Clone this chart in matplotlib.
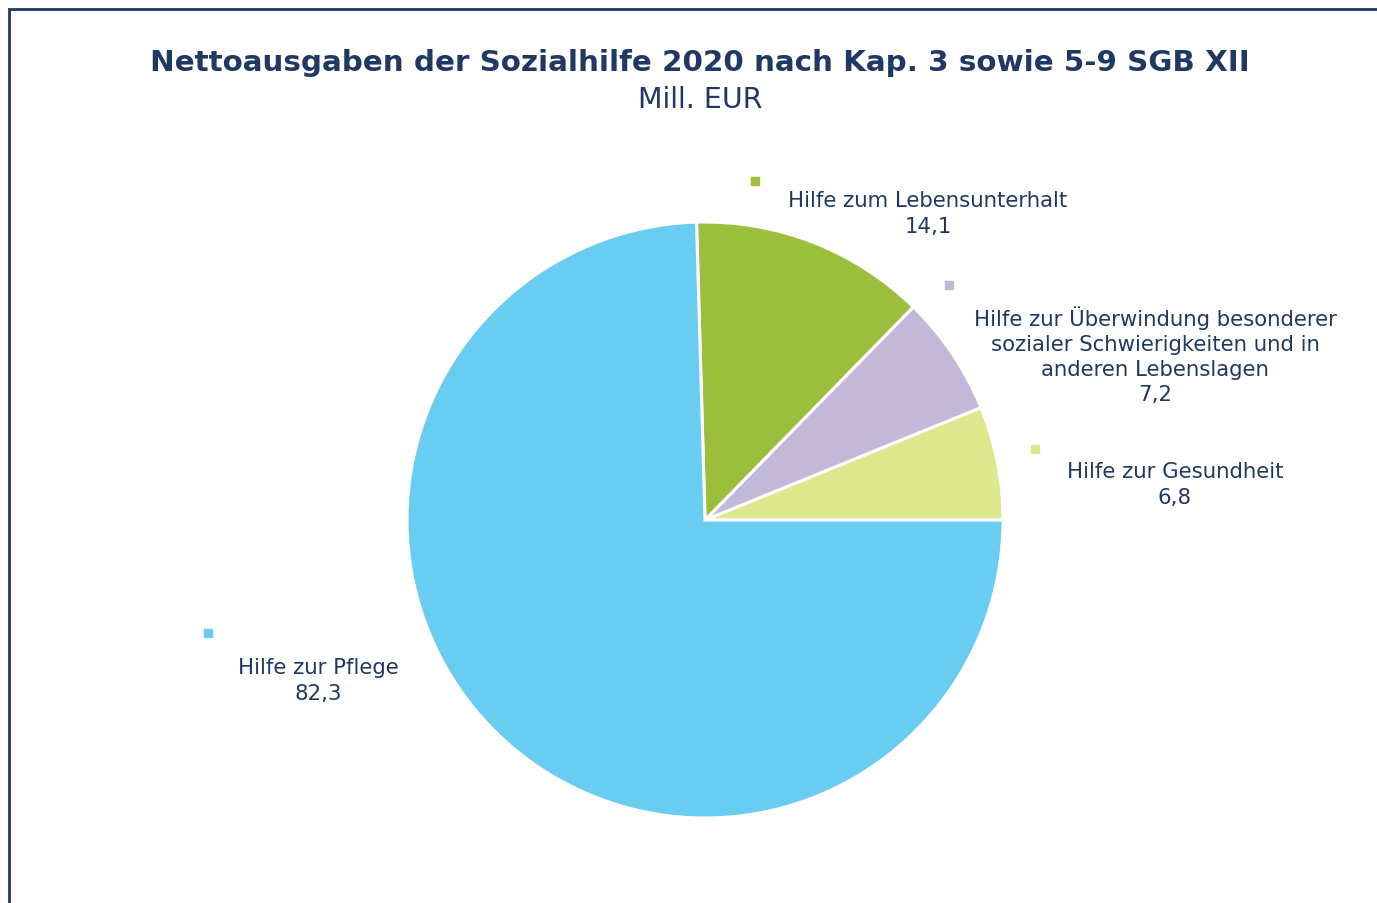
import matplotlib.pyplot as plt
from matplotlib.patches import Rectangle

# Daten (Mill. EUR), Reihenfolge gegen den Uhrzeigersinn ab 3 Uhr
kategorien = ['Hilfe zur Gesundheit',
              'Hilfe zur Überwindung besonderer\nsozialer Schwierigkeiten und in\nanderen Lebenslagen',
              'Hilfe zum Lebensunterhalt',
              'Hilfe zur Pflege']
werte = [6.8, 7.2, 14.1, 82.3]
farben = ['#DCE78E', '#C3B8D8', '#9BBF3D', '#69CDF1']

# Position der Beschriftungen (Pixel, y von oben) und der Legendenquadrate
label_pos = [(1175, 485), (1155, 356), (928, 214), (318, 681)]
marker_pos = [(1035, 450), (949, 286), (755, 182), (208, 634)]

navy = '#1F3864'
W, H = 1377, 904

fig = plt.figure(figsize=(W / 100, H / 100), dpi=100)
ax = fig.add_axes([0, 0, 1, 1])

ax.pie(werte, colors=farben, startangle=0, counterclock=True,
       center=(705, H - 521), radius=298,
       wedgeprops=dict(edgecolor='white', linewidth=2.2))

for txt, wert, (lx, ly), (mx, my), c in zip(kategorien, werte, label_pos, marker_pos, farben):
    s = txt + '\n' + ('%.1f' % wert).replace('.', ',')
    ax.text(lx, H - ly, s, ha='center', va='center', fontsize=15.3,
            color=navy, linespacing=1.32)
    ax.plot(mx, H - my, 's', color=c, markersize=5.5)

ax.text(700, H - 63, 'Nettoausgaben der Sozialhilfe 2020 nach Kap. 3 sowie 5-9 SGB XII',
        ha='center', va='center', fontsize=21.2, fontweight='bold', color=navy)
ax.text(700, H - 100, 'Mill. EUR', ha='center', va='center', fontsize=20.5, color=navy)

# Rahmen
ax.add_patch(Rectangle((9, -20), 1400, H - 10 + 20, fill=False,
                       edgecolor=navy, linewidth=2, clip_on=False))

ax.set_xlim(0, W)
ax.set_ylim(0, H)
ax.set_aspect('auto')
ax.axis('off')

fig.savefig('out.png', dpi=100)
